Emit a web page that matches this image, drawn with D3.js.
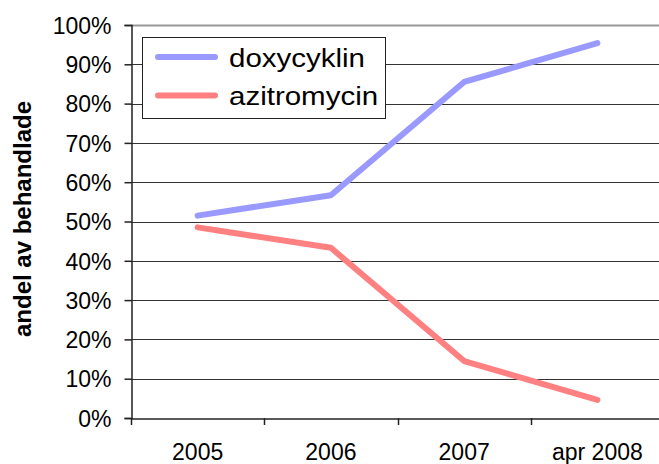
<!DOCTYPE html>
<html>
<head>
<meta charset="utf-8">
<script src="https://cdn.jsdelivr.net/npm/d3@7"></script>
<style>
  body { margin: 0; background: #fff; }
  svg { display: block; font-family: "Liberation Sans", Arial, sans-serif; }
</style>
</head>
<body>
<div id="chart"></div>
<script>
// data
var categories = ["2005", "2006", "2007", "apr 2008"];
var doxycyklin = [0.515, 0.567, 0.855, 0.954];
var azitromycin = [0.485, 0.433, 0.145, 0.046];
var seriesNames = ["doxycyklin", "azitromycin"];
var seriesColors = ["#9999ff", "#ff8080"];
var yTicks = [0, 0.1, 0.2, 0.3, 0.4, 0.5, 0.6, 0.7, 0.8, 0.9, 1.0];

var width = 659, height = 464;
// plot area (note: "top" is reserved on window, so use plot* names)
var plotLeft = 131, plotRight = 664, plotTop = 25, plotBottom = 418;

var svg = d3.select("#chart")
  .append("svg")
    .attr("width", width)
    .attr("height", height);

var x = d3.scaleBand()
  .domain(categories)
  .range([plotLeft, plotRight]);

var y = d3.scaleLinear()
  .domain([0, 1])
  .range([plotBottom, plotTop]);

// grid lines
svg.append("g")
  .selectAll("line")
  .data(yTicks.slice(1))
  .enter()
  .append("line")
    .attr("x1", plotLeft)
    .attr("x2", plotRight)
    .attr("y1", function(d) { return Math.round(y(d)) + 0.5; })
    .attr("y2", function(d) { return Math.round(y(d)) + 0.5; })
    .attr("stroke", function(d) { return d === 1 ? "#999" : "#333"; })
    .attr("stroke-width", function(d) { return d === 1 ? 2 : 1; });

// y axis
var yAxis = svg.append("g")
  .attr("transform", "translate(" + (plotLeft + 0.5) + ",0)")
  .call(d3.axisLeft(y)
    .tickValues(yTicks)
    .tickSize(7)
    .tickPadding(13)
    .tickFormat(d3.format(".0%")));

yAxis.selectAll("text")
  .style("font-size", "23px")
  .attr("fill", "#000")
  .attr("dy", "0.36em");
yAxis.selectAll("line, path").attr("stroke", "#222").attr("stroke-width", 1.5);

// x axis
var xAxis = svg.append("g")
  .attr("transform", "translate(0," + (plotBottom + 0.5) + ")")
  .call(d3.axisBottom(x).tickSize(0).tickPadding(25));

xAxis.select(".domain").attr("stroke", "#222").attr("stroke-width", 1.5);
xAxis.selectAll("text")
  .style("font-size", "23px")
  .attr("fill", "#000");

// category separator ticks
svg.append("g")
  .selectAll("line")
  .data(categories)
  .enter()
  .append("line")
    .attr("x1", function(d) { return Math.round(x(d)) + 0.5; })
    .attr("x2", function(d) { return Math.round(x(d)) + 0.5; })
    .attr("y1", plotBottom)
    .attr("y2", plotBottom + 7)
    .attr("stroke", "#222")
    .attr("stroke-width", 1.5);

// axis title
svg.append("text")
  .attr("transform", "translate(31," + 219 + ") rotate(-90)")
  .attr("text-anchor", "middle")
  .style("font-size", "24px")
  .style("font-weight", "bold")
  .text("andel av behandlade");

// lines
var line = d3.line()
  .x(function(d, i) { return x(categories[i]) + x.bandwidth() / 2; })
  .y(function(d) { return y(d); });

[doxycyklin, azitromycin].forEach(function(values, i) {
  svg.append("path")
    .datum(values)
    .attr("d", line)
    .attr("fill", "none")
    .attr("stroke", seriesColors[i])
    .attr("stroke-width", 6)
    .attr("stroke-linecap", "round")
    .attr("stroke-linejoin", "round");
});

// legend
var legend = svg.append("g");
legend.append("rect")
  .attr("x", 142.5)
  .attr("y", 37.5)
  .attr("width", 243)
  .attr("height", 81)
  .attr("fill", "#fff")
  .attr("stroke", "#222")
  .attr("stroke-width", 1);

var item = legend.selectAll("g.item")
  .data(seriesNames)
  .enter()
  .append("g")
    .attr("class", "item")
    .attr("transform", function(d, i) { return "translate(0," + (57 + i * 38.5) + ")"; });

item.append("line")
  .attr("x1", 158)
  .attr("x2", 215)
  .attr("stroke", function(d, i) { return seriesColors[i]; })
  .attr("stroke-width", 6)
  .attr("stroke-linecap", "round");

// legend text in the reference is stretched horizontally
item.append("text")
  .attr("transform", "translate(229,0) scale(1.18,1)")
  .attr("dy", "0.38em")
  .style("font-size", "25px")
  .text(function(d) { return d; });
</script>
</body>
</html>
